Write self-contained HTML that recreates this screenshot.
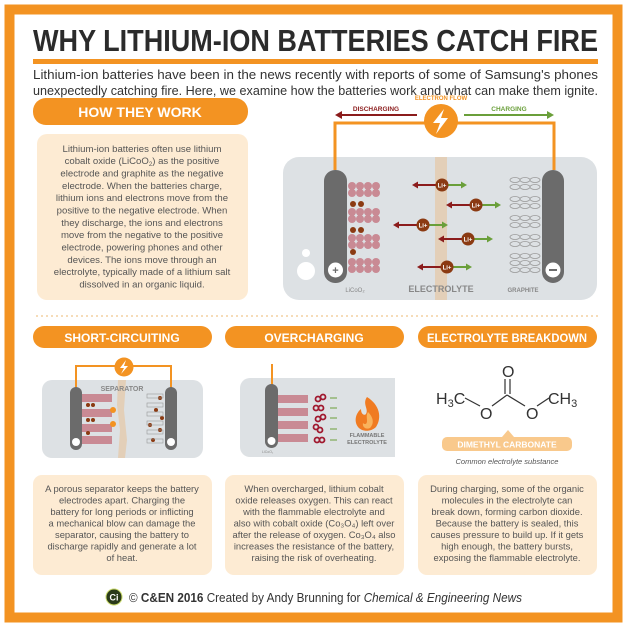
<!DOCTYPE html>
<html><head><meta charset="utf-8"><style>
html,body{margin:0;padding:0;background:#fff;}
svg{display:block;font-family:"Liberation Sans",sans-serif;}
</style></head><body>
<svg width="633" height="633" viewBox="0 0 633 633" xmlns="http://www.w3.org/2000/svg">
<defs>
<g id="gr" fill="none" stroke="#999" stroke-width="0.8"><ellipse cx="515" cy="0" rx="5" ry="2.5"/><ellipse cx="525" cy="0" rx="5" ry="2.5"/><ellipse cx="535" cy="0" rx="5" ry="2.5"/></g>
<g id="ion"><line x1="-28" y1="0" x2="0" y2="0" stroke="#8b1c1c" stroke-width="2"/><polygon points="-30,0 -24,-3.5 -24,3.5" fill="#8b1c1c"/><line x1="0" y1="0" x2="22" y2="0" stroke="#6a9f3a" stroke-width="2"/><polygon points="25,0 19,-3.5 19,3.5" fill="#6a9f3a"/><circle cx="0" cy="0" r="6.5" fill="#8b3a12"/><text x="0" y="2.5" font-size="6" font-weight="bold" fill="#fff" text-anchor="middle">Li+</text></g>
</defs>
<rect x="0" y="0" width="633" height="633" fill="#fff"/>
<rect x="9.5" y="9.5" width="608" height="608" fill="#fff" stroke="#f39322" stroke-width="10"/>
<text x="33" y="51" font-size="31" font-weight="bold" fill="#2b2b2b" textLength="565" lengthAdjust="spacingAndGlyphs">WHY LITHIUM-ION BATTERIES CATCH FIRE</text>
<rect x="33" y="59" width="565" height="5" fill="#f39322"/>
<text x="33" y="79" font-size="12.5" fill="#333" textLength="565" lengthAdjust="spacingAndGlyphs">Lithium-ion batteries have been in the news recently with reports of some of Samsung's phones</text>
<text x="33" y="95" font-size="12.5" fill="#333" textLength="565" lengthAdjust="spacingAndGlyphs">unexpectedly catching fire. Here, we examine how the batteries work and what can make them ignite.</text>
<rect x="33" y="98" width="215" height="27" rx="13" fill="#f39322"/>
<text x="140" y="117" font-size="14" font-weight="bold" fill="#fff" text-anchor="middle">HOW THEY WORK</text>
<rect x="37" y="134" width="211" height="166" rx="10" fill="#fdebd3"/>
<g font-size="9.6" fill="#555" text-anchor="middle">
<text x="142" y="152">Lithium-ion batteries often use lithium</text>
<text x="142" y="164">cobalt oxide (LiCoO<tspan font-size="6" dy="2">2</tspan><tspan dy="-2">) as the positive</tspan></text>
<text x="142" y="176.5">electrode and graphite as the negative</text>
<text x="142" y="189">electrode. When the batteries charge,</text>
<text x="142" y="201">lithium ions and electrons move from the</text>
<text x="142" y="213.5">positive to the negative electrode. When</text>
<text x="142" y="226">they discharge, the ions and electrons</text>
<text x="142" y="238">move from the negative to the positive</text>
<text x="142" y="250.5">electrode, powering phones and other</text>
<text x="142" y="263">devices. The ions move through an</text>
<text x="142" y="275">electrolyte, typically made of a lithium salt</text>
<text x="142" y="287.5">dissolved in an organic liquid.</text>
</g>
<text x="441" y="100" font-size="6" font-weight="bold" fill="#f39322" text-anchor="middle">ELECTRON FLOW</text>
<line x1="417" y1="115" x2="340" y2="115" stroke="#8b1c1c" stroke-width="2"/>
<polygon points="335,115 342,111 342,119" fill="#8b1c1c"/>
<text x="376" y="111" font-size="6.5" font-weight="bold" fill="#8b1c1c" text-anchor="middle">DISCHARGING</text>
<line x1="464" y1="115" x2="548" y2="115" stroke="#6a9f3a" stroke-width="2"/>
<polygon points="554,115 547,111 547,119" fill="#6a9f3a"/>
<text x="509" y="111" font-size="6.5" font-weight="bold" fill="#6a9f3a" text-anchor="middle">CHARGING</text>
<rect x="283" y="157" width="314" height="143" rx="16" fill="#dde1e4"/>
<rect x="435" y="157" width="12" height="143" fill="#e3cfb8"/>
<polyline points="335,170 335,123 554,123 554,170" fill="none" stroke="#f39322" stroke-width="3"/>
<circle cx="441" cy="121" r="17" fill="#f39322"/>
<polygon points="444,109 433,123 440,123 436,134 448,118 441,118" fill="#fff"/>
<rect x="324" y="170" width="23" height="113" rx="11" fill="#6b6b6b"/>
<circle cx="335.5" cy="270" r="7.5" fill="#fff"/><text x="335.5" y="274" font-size="11" font-weight="bold" fill="#6b6b6b" text-anchor="middle">+</text>
<rect x="542" y="170" width="22" height="113" rx="11" fill="#6b6b6b"/>
<circle cx="553" cy="270" r="7.5" fill="#fff"/><rect x="549" y="269" width="8" height="2" fill="#6b6b6b"/>
<circle cx="306" cy="253" r="4" fill="#fff"/><circle cx="306" cy="271" r="9" fill="#fff"/>
<g fill="#c98a94">
<circle cx="352" cy="186" r="4"/><circle cx="360" cy="186" r="4"/><circle cx="368" cy="186" r="4"/><circle cx="376" cy="186" r="4"/>
<circle cx="352" cy="193" r="4"/><circle cx="360" cy="193" r="4"/><circle cx="368" cy="193" r="4"/><circle cx="376" cy="193" r="4"/>
<circle cx="352" cy="212" r="4"/><circle cx="360" cy="212" r="4"/><circle cx="368" cy="212" r="4"/><circle cx="376" cy="212" r="4"/>
<circle cx="352" cy="219" r="4"/><circle cx="360" cy="219" r="4"/><circle cx="368" cy="219" r="4"/><circle cx="376" cy="219" r="4"/>
<circle cx="352" cy="238" r="4"/><circle cx="360" cy="238" r="4"/><circle cx="368" cy="238" r="4"/><circle cx="376" cy="238" r="4"/>
<circle cx="352" cy="245" r="4"/><circle cx="360" cy="245" r="4"/><circle cx="368" cy="245" r="4"/><circle cx="376" cy="245" r="4"/>
<circle cx="352" cy="262" r="4"/><circle cx="360" cy="262" r="4"/><circle cx="368" cy="262" r="4"/><circle cx="376" cy="262" r="4"/>
<circle cx="352" cy="269" r="4"/><circle cx="360" cy="269" r="4"/><circle cx="368" cy="269" r="4"/><circle cx="376" cy="269" r="4"/>
</g>
<g fill="#8b3a12"><circle cx="353" cy="204" r="3"/><circle cx="361" cy="204" r="3"/><circle cx="353" cy="230" r="3"/><circle cx="361" cy="230" r="3"/><circle cx="353" cy="252" r="3"/></g>
<use href="#gr" y="180"/><use href="#gr" y="187"/><use href="#gr" y="199"/><use href="#gr" y="206"/><use href="#gr" y="218"/><use href="#gr" y="225"/><use href="#gr" y="237"/><use href="#gr" y="244"/><use href="#gr" y="256"/><use href="#gr" y="263"/><use href="#gr" y="270"/>
<use href="#ion" x="442" y="185"/><use href="#ion" x="476" y="205"/><use href="#ion" x="423" y="225"/><use href="#ion" x="468" y="239"/><use href="#ion" x="447" y="267"/>
<text x="355" y="292" font-size="6" fill="#888" text-anchor="middle">LiCoO₂</text>
<text x="441" y="292" font-size="9" font-weight="bold" fill="#888" text-anchor="middle">ELECTROLYTE</text>
<text x="523" y="292" font-size="6" font-weight="bold" fill="#888" text-anchor="middle">GRAPHITE</text>
<line x1="36" y1="316" x2="598" y2="316" stroke="#f6dcb8" stroke-width="2" stroke-dasharray="2,3"/>
<rect x="33" y="326" width="179" height="22" rx="11" fill="#f39322"/>
<text x="122" y="342" font-size="12" font-weight="bold" fill="#fff" text-anchor="middle">SHORT-CIRCUITING</text>
<rect x="225" y="326" width="179" height="22" rx="11" fill="#f39322"/>
<text x="314" y="342" font-size="12" font-weight="bold" fill="#fff" text-anchor="middle">OVERCHARGING</text>
<rect x="418" y="326" width="179" height="22" rx="11" fill="#f39322"/>
<text x="507" y="342" font-size="11.5" font-weight="bold" fill="#fff" text-anchor="middle" textLength="160" lengthAdjust="spacingAndGlyphs">ELECTROLYTE BREAKDOWN</text>
<rect x="42" y="380" width="161" height="78" rx="10" fill="#dde1e4"/>
<polygon points="118,380 126,380 124,410 127,440 125,458 118,458 120,430 117,405" fill="#e3cfb8"/>
<polyline points="76,390 76,366 171,366 171,390" fill="none" stroke="#f39322" stroke-width="2"/>
<circle cx="124" cy="367" r="9.5" fill="#f39322"/>
<polygon points="126,360 120,368 124,368 121,374 128,366 124,366" fill="#fff"/>
<text x="122" y="391" font-size="7" font-weight="bold" fill="#888" text-anchor="middle">SEPARATOR</text>
<rect x="70" y="387" width="12" height="63" rx="6" fill="#6b6b6b"/>
<circle cx="76" cy="442" r="4" fill="#fff"/>
<rect x="165" y="387" width="12" height="63" rx="6" fill="#6b6b6b"/>
<circle cx="171" cy="442" r="4" fill="#fff"/>
<g fill="#c98a94"><rect x="82" y="394" width="30" height="8"/><rect x="82" y="409" width="30" height="8"/><rect x="82" y="424" width="30" height="8"/><rect x="82" y="436" width="30" height="8"/></g>
<circle cx="113" cy="410" r="3" fill="#f39322"/><circle cx="113" cy="424" r="3" fill="#f39322"/>
<g fill="#8b3a12"><circle cx="88" cy="405" r="2"/><circle cx="93" cy="405" r="2"/><circle cx="88" cy="420" r="2"/><circle cx="93" cy="420" r="2"/><circle cx="88" cy="433" r="2"/>
<circle cx="160" cy="398" r="2"/><circle cx="156" cy="410" r="2"/><circle cx="162" cy="418" r="2"/><circle cx="150" cy="425" r="2"/><circle cx="160" cy="430" r="2"/><circle cx="153" cy="440" r="2"/></g>
<g fill="none" stroke="#999" stroke-width="0.6"><rect x="147" y="394" width="16" height="4"/><rect x="147" y="403" width="16" height="4"/><rect x="147" y="412" width="16" height="4"/><rect x="147" y="421" width="16" height="4"/><rect x="147" y="430" width="16" height="4"/><rect x="147" y="439" width="16" height="4"/></g>
<path d="M250,378 H395 V457 H250 A10,10 0 0 1 240,447 V388 A10,10 0 0 1 250,378 Z" fill="#dde1e4"/>
<line x1="272" y1="364" x2="272" y2="386" stroke="#f39322" stroke-width="2"/>
<rect x="265" y="384" width="13" height="64" rx="6.5" fill="#6b6b6b"/>
<circle cx="271.5" cy="441" r="4" fill="#fff"/>
<g fill="#c98a94"><rect x="278" y="395" width="30" height="8"/><rect x="278" y="408" width="30" height="8"/><rect x="278" y="421" width="30" height="8"/><rect x="278" y="434" width="30" height="8"/></g>
<g fill="none" stroke="#a0182e" stroke-width="1.8"><circle cx="318" cy="399" r="2.5"/><circle cx="323" cy="397" r="2.5"/><circle cx="316" cy="408" r="2.5"/><circle cx="321" cy="408" r="2.5"/><circle cx="318" cy="419" r="2.5"/><circle cx="323" cy="417" r="2.5"/><circle cx="316" cy="427" r="2.5"/><circle cx="320" cy="430" r="2.5"/><circle cx="317" cy="440" r="2.5"/><circle cx="322" cy="440" r="2.5"/></g>
<g stroke="#6a9f3a" stroke-width="1"><line x1="330" y1="398" x2="337" y2="398"/><line x1="330" y1="408" x2="337" y2="408"/><line x1="330" y1="418" x2="337" y2="418"/><line x1="330" y1="429" x2="337" y2="429"/><line x1="330" y1="440" x2="337" y2="440"/></g>
<path d="M367,397 C380,405 382,418 376,427 C371,432 362,432 358,427 C353,420 357,412 361,409 C361,414 364,416 366,414 C369,409 362,404 367,397 Z" fill="#f07b22"/>
<path d="M368,412 C374,418 374,424 370,428 C366,430 362,427 363,423 C365,425 367,424 367,421 C367,418 366,415 368,412 Z" fill="#f9b35c"/>
<text x="367" y="437" font-size="5.5" font-weight="bold" fill="#777" text-anchor="middle">FLAMMABLE</text>
<text x="367" y="444" font-size="5.5" font-weight="bold" fill="#777" text-anchor="middle">ELECTROLYTE</text>
<text x="262" y="453" font-size="3.5" fill="#888">LiCoO₂</text>
<g font-size="16" fill="#333">
<text x="436" y="404">H<tspan font-size="11" dy="3">3</tspan><tspan dy="-3">C</tspan></text>
<text x="480" y="419">O</text>
<text x="526" y="419">O</text>
<text x="502" y="377">O</text>
<text x="548" y="404">CH<tspan font-size="11" dy="3">3</tspan></text>
</g>
<g stroke="#333" stroke-width="1.2" fill="none">
<line x1="465" y1="398" x2="480" y2="406"/>
<line x1="492" y1="406" x2="507" y2="395"/>
<line x1="507" y1="395" x2="525" y2="406"/>
<line x1="537" y1="406" x2="549" y2="398"/>
<line x1="505" y1="394" x2="505" y2="379"/>
<line x1="510" y1="394" x2="510" y2="379"/>
</g>
<rect x="442" y="437" width="130" height="14" rx="5" fill="#f9c98c"/>
<polygon points="502,437 508,430 514,437" fill="#f9c98c"/>
<text x="507" y="447.5" font-size="8.5" font-weight="bold" fill="#fff" text-anchor="middle">DIMETHYL CARBONATE</text>
<text x="507" y="464" font-size="7.5" font-style="italic" fill="#555" text-anchor="middle">Common electrolyte substance</text>
<rect x="33" y="475" width="179" height="100" rx="9" fill="#fdebd3"/>
<rect x="225" y="475" width="179" height="100" rx="9" fill="#fdebd3"/>
<rect x="418" y="475" width="179" height="100" rx="9" fill="#fdebd3"/>
<g font-size="9.4" fill="#555" text-anchor="middle">
<text x="122" y="492">A porous separator keeps the battery</text>
<text x="122" y="503.5">electrodes apart. Charging the</text>
<text x="122" y="515">battery for long periods or inflicting</text>
<text x="122" y="526.5">a mechanical blow can damage the</text>
<text x="122" y="538">separator, causing the battery to</text>
<text x="122" y="549.5">discharge rapidly and generate a lot</text>
<text x="122" y="561">of heat.</text>
<text x="314" y="492">When overcharged, lithium cobalt</text>
<text x="314" y="503.5">oxide releases oxygen. This can react</text>
<text x="314" y="515">with the flammable electrolyte and</text>
<text x="314" y="526.5">also with cobalt oxide (Co₃O₄) left over</text>
<text x="314" y="538">after the release of oxygen. Co₃O₄ also</text>
<text x="314" y="549.5">increases the resistance of the battery,</text>
<text x="314" y="561">raising the risk of overheating.</text>
<text x="507" y="492">During charging, some of the organic</text>
<text x="507" y="503.5">molecules in the electrolyte can</text>
<text x="507" y="515">break down, forming carbon dioxide.</text>
<text x="507" y="526.5">Because the battery is sealed, this</text>
<text x="507" y="538">causes pressure to build up. If it gets</text>
<text x="507" y="549.5">high enough, the battery bursts,</text>
<text x="507" y="561">exposing the flammable electrolyte.</text>
</g>
<circle cx="114" cy="597" r="8" fill="#2a3a1a"/>
<circle cx="114" cy="597" r="8" fill="none" stroke="#c8d96a" stroke-width="1"/>
<text x="114" y="600.5" font-size="9" font-weight="bold" fill="#fff" text-anchor="middle">Ci</text>
<text x="129" y="602" font-size="13" fill="#333" textLength="393" lengthAdjust="spacingAndGlyphs">© <tspan font-weight="bold">C&amp;EN 2016</tspan> Created by Andy Brunning for <tspan font-style="italic">Chemical &amp; Engineering News</tspan></text>
</svg>
</body></html>
